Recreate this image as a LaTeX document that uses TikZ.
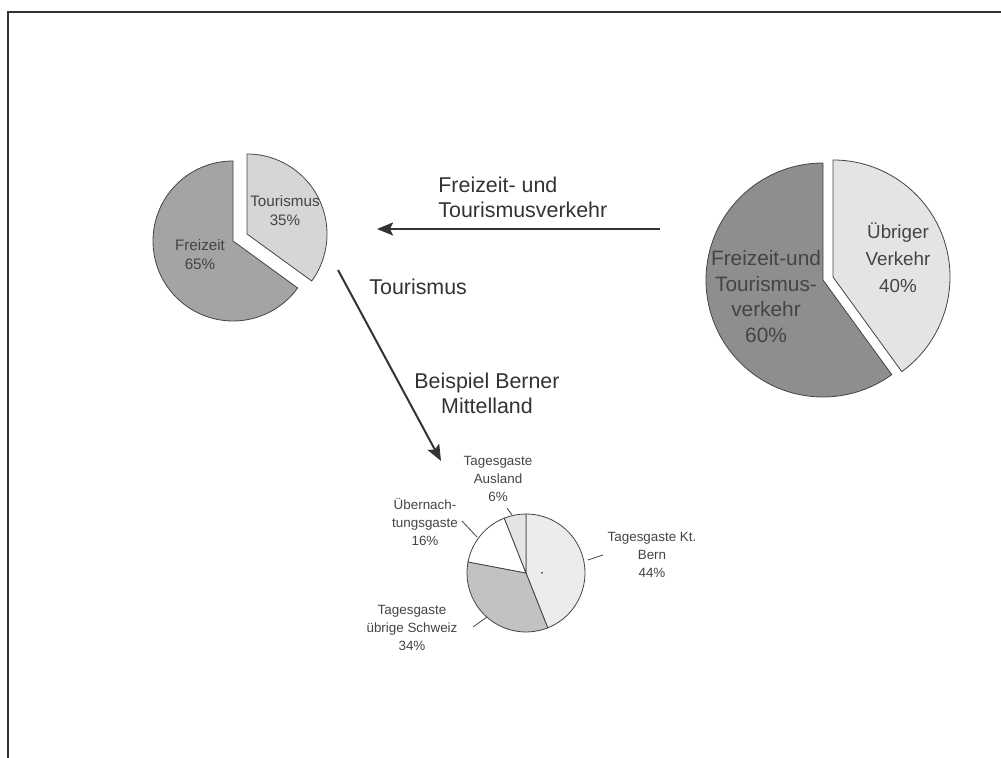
\documentclass[tikz,border=0pt]{standalone}
\usepackage{fontspec}
\setmainfont{Liberation Sans}
\usetikzlibrary{arrows.meta}

\definecolor{inkgray}{HTML}{333333}
\definecolor{txtgray}{HTML}{444444}
\definecolor{darkslice}{HTML}{8E8E8E}
\definecolor{midslice}{HTML}{A4A4A4}
\definecolor{lightslice}{HTML}{E4E4E4}
\definecolor{paleslice}{HTML}{D6D6D6}
\definecolor{dotslice}{HTML}{C2C2C2}

\tikzset{
  slice/.style={draw=txtgray, line width=0.4pt},
  flowarrow/.style={draw=inkgray, line width=1pt, -{Stealth[length=8pt,width=6.5pt,inset=1.5pt]}},
  biglabel/.style={text=inkgray, font=\fontsize{10.7}{12.5}\selectfont, inner sep=0pt},
  pielabel/.style={text=txtgray, align=center, inner sep=0pt, font=\fontsize{9.4}{13.5}\selectfont},
  widelabel/.style={text=txtgray, align=center, inner sep=0pt, font=\fontsize{10.4}{12.8}\selectfont},
  smalllabel/.style={text=txtgray, align=center, inner sep=0pt, font=\fontsize{7.6}{9.5}\selectfont},
  tinylabel/.style={text=txtgray, align=center, inner sep=0pt, font=\fontsize{6.7}{8.8}\selectfont},
  leader/.style={draw=txtgray, line width=0.4pt}
}

\begin{document}
\begin{tikzpicture}[x=0.5pt,y=0.5pt]
\useasboundingbox (0,0) rectangle (1001,758);
\draw[inkgray, line width=1pt] (1001,746) -- (8,746) -- (8,0);

\fill[midslice, slice] (233,517) -- ++(90:80) arc[start angle=90, end angle=324, radius=80] -- cycle;
\fill[paleslice, slice] (247,524) -- ++(-36:80) arc[start angle=-36, end angle=90, radius=80] -- cycle;
\node[smalllabel] (tourL) at (285,547) {Tourismus\\35\%};
\node[smalllabel] (freiL) at (200,503) {Freizeit\\65\%};

\fill[darkslice, slice] (823,478) -- ++(90:117) arc[start angle=90, end angle=306, radius=117] -- cycle;
\fill[lightslice, slice] (833,481) -- ++(-54:117) arc[start angle=-54, end angle=90, radius=117] -- cycle;
\node[pielabel] (uebrigR) at (898,500) {Übriger\\Verkehr\\40\%};
\node[widelabel] (freiR) at (766,461.5) {Freizeit-und\\Tourismus-\\verkehr\\60\%};

\coordinate (fromR) at (660,529);
\coordinate (toL) at (377,529);
\draw[flowarrow] (fromR) -- (toL);
\node[biglabel, anchor=west, align=left] (verkehrL) at (438,560.5) {Freizeit- und\\Tourismusverkehr};

\coordinate (fromL) at (338,488);
\coordinate (toS) at (441,297);
\draw[flowarrow] (fromL) -- (toS);
\node[biglabel, anchor=west] (tourA) at (369,471) {Tourismus};
\node[biglabel, align=center] (berner) at (487,365) {Beispiel Berner\\Mittelland};

\fill[lightslice!70!white, slice] (526,185) -- ++(-68.4:59) arc[start angle=-68.4, end angle=90, radius=59] -- cycle;
\fill[dotslice, slice] (526,185) -- ++(169.2:59) arc[start angle=169.2, end angle=291.6, radius=59] -- cycle;
\fill[white, slice] (526,185) -- ++(111.6:59) arc[start angle=111.6, end angle=169.2, radius=59] -- cycle;
\fill[lightslice, slice] (526,185) -- ++(90:59) arc[start angle=90, end angle=111.6, radius=59] -- cycle;
\fill[txtgray] (542,185) circle[radius=1];

\node[tinylabel] (auslandL) at (498,279) {Tagesgaste\\Ausland\\6\%};
\node[tinylabel] (nachtL) at (425,236) {Übernach-\\tungsgaste\\16\%};
\node[tinylabel] (bernL) at (652,203) {Tagesgaste Kt.\\Bern\\44\%};
\node[tinylabel] (schweizL) at (412,130) {Tagesgaste\\übrige Schweiz\\34\%};

\coordinate (auslandA) at (507,250);
\coordinate (auslandB) at (512,243);
\coordinate (nachtA) at (462,237);
\coordinate (nachtB) at (477,221);
\coordinate (bernA) at (603,203);
\coordinate (bernB) at (588,198);
\coordinate (schweizA) at (473,131);
\coordinate (schweizB) at (487,141);
\draw[leader] (auslandA) -- (auslandB);
\draw[leader] (nachtA) -- (nachtB);
\draw[leader] (bernA) -- (bernB);
\draw[leader] (schweizA) -- (schweizB);
\end{tikzpicture}
\end{document}
